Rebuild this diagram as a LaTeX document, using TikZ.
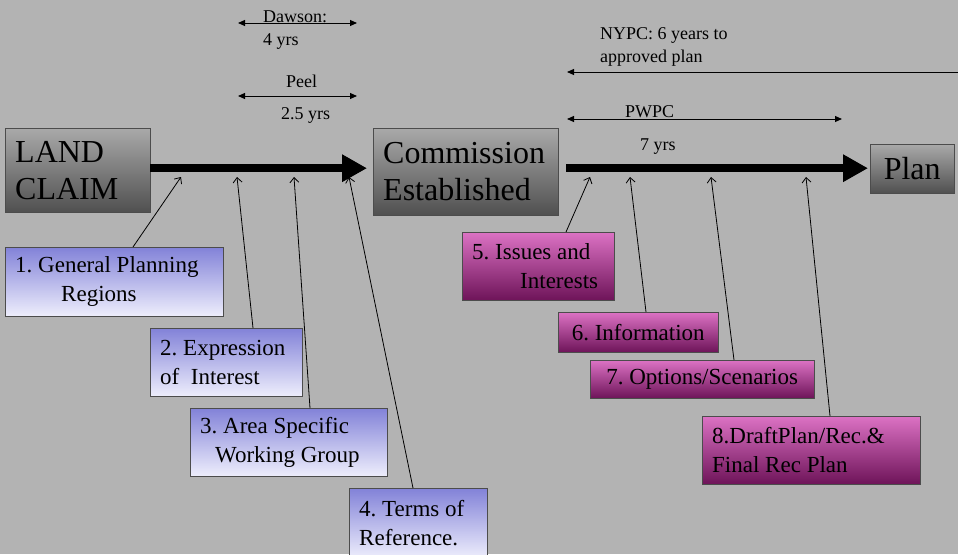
\documentclass[tikz,border=0pt]{standalone}
\usepackage{fontspec}
\setmainfont{Liberation Serif}
\usetikzlibrary{arrows.meta}
\definecolor{canvas}{HTML}{B3B3B3}
\definecolor{stagetop}{HTML}{A9A9A9}
\definecolor{stagebot}{HTML}{505050}
\definecolor{bluetop}{HTML}{8282D8}
\definecolor{bluebot}{HTML}{EEEEFC}
\definecolor{pinktop}{HTML}{DC72C4}
\definecolor{pinkbot}{HTML}{6E1459}
\frenchspacing
\begin{document}
\begin{tikzpicture}[x=1pt,y=-1pt,
    >={Triangle[length=7pt,width=6pt]},
    box/.style={draw=black!70, anchor=north west, inner xsep=10pt, inner ysep=2pt, align=flush left},
    stagebox/.style={box, top color=stagetop, bottom color=stagebot, font=\fontsize{32pt}{37pt}\selectfont},
    setupbox/.style={box, top color=bluetop, bottom color=bluebot, font=\fontsize{23pt}{29pt}\selectfont},
    planbox/.style={box, top color=pinktop, bottom color=pinkbot, font=\fontsize{23pt}{29pt}\selectfont},
    note/.style={anchor=base west, inner sep=0pt, font=\fontsize{18pt}{22pt}\selectfont},
    trunk/.style={line width=8pt, -{Triangle[length=25pt,width=26pt]}},
    pointerline/.style={line width=0.8pt, -{Straight Barb[length=5pt,width=9pt]}},
    spanline/.style={line width=1pt}]
  \useasboundingbox (0,0) rectangle (958,554);
  \clip (0,0) rectangle (958,554);
  \fill[canvas] (0,0) rectangle (958,554);

  % stages
  \node[stagebox, minimum width=145pt, minimum height=84pt, text width=125pt] (land) at (5,128) {LAND\\CLAIM};
  \node[stagebox, minimum width=185pt, minimum height=87pt, text width=165pt] (comm) at (373,128) {Commission\\Established};
  \node[stagebox, minimum width=84pt, minimum height=49pt] (plan) at (870,144) {Plan};

  \draw[trunk, shorten >=6pt] ([yshift=2pt]land.east) -- ([yshift=2pt]land.east -| comm.west);
  \draw[trunk, shorten <=8pt, shorten >=2pt] ([yshift=3.5pt]comm.east) -- ([yshift=3.5pt]comm.east -| plan.west);

  % durations
  \coordinate (dawsonL) at (238,23);
  \coordinate (dawsonR) at (357,23);
  \coordinate (peelL) at (238,96);
  \coordinate (peelR) at (357,96);
  \coordinate (nypcL) at (567,72);
  \coordinate (nypcR) at (958,72);
  \coordinate (pwpcL) at (567,119);
  \coordinate (pwpcR) at (842,119);
  \draw[spanline, <->] (dawsonL) -- (dawsonR);
  \draw[spanline, <->] (peelL) -- (peelR);
  \draw[spanline, <-] (nypcL) -- (nypcR);
  \draw[spanline, <->] (pwpcL) -- (pwpcR);
  \node[note] (dawson) at (263,23) {Dawson:};
  \node[note] (dawsonyrs) at (263,45) {4 yrs};
  \node[note] (peel) at (286,87) {Peel};
  \node[note] (peelyrs) at (281,119) {2.5 yrs};
  \node[note] (nypc) at (600,39) {NYPC: 6 years to};
  \node[note] (nypcb) at (600,62) {approved plan};
  \node[note] (pwpc) at (625,117) {PWPC};
  \node[note] (pwpcyrs) at (640,150) {7 yrs};

  % steps
  \node[setupbox, minimum width=218pt, minimum height=69pt, text width=198pt] (s1) at (5,247) {1. General Planning\\\hspace*{46pt}Regions};
  \node[setupbox, minimum width=152pt, minimum height=68pt, text width=132pt] (s2) at (150,328) {2. Expression\\of\ \ Interest};
  \node[setupbox, minimum width=197pt, minimum height=68pt, text width=177pt] (s3) at (190,408) {3. Area Specific\\\hspace*{15pt}Working Group};
  \node[setupbox, minimum width=138pt, minimum height=70pt, text width=118pt] (s4) at (349,488) {4. Terms of\\Reference.};
  \node[planbox, minimum width=152pt, minimum height=68pt, text width=132pt] (s5) at (462,232) {5. Issues and\\\hspace*{48pt}Interests};
  \node[planbox, minimum width=160pt, minimum height=40pt] (s6) at (558,312) {6. Information};
  \node[planbox, minimum width=224pt, minimum height=38pt] (s7) at (590,360) {7. Options/Scenarios};
  \node[planbox, minimum width=218pt, minimum height=68pt, text width=198pt] (s8) at (702,416) {8.DraftPlan/Rec.\&\\Final Rec Plan};

  \coordinate (t1) at (181,177);
  \coordinate (t2) at (237,177);
  \coordinate (t3) at (294,177);
  \coordinate (t4) at (349,177);
  \coordinate (t5) at (590,177);
  \coordinate (t6) at (630,177);
  \coordinate (t7) at (711,177);
  \coordinate (t8) at (806,177);
  \begin{scope}[pointerline]
    \draw ([xshift=128pt]s1.north west) -- (t1);
    \draw ([xshift=103pt]s2.north west) -- (t2);
    \draw ([xshift=120pt]s3.north west) -- (t3);
    \draw ([xshift=64pt]s4.north west) -- (t4);
    \draw ([xshift=104pt]s5.north west) -- (t5);
    \draw ([xshift=88pt]s6.north west) -- (t6);
    \draw ([xshift=144pt]s7.north west) -- (t7);
    \draw ([xshift=128pt]s8.north west) -- (t8);
  \end{scope}
\end{tikzpicture}
\end{document}
